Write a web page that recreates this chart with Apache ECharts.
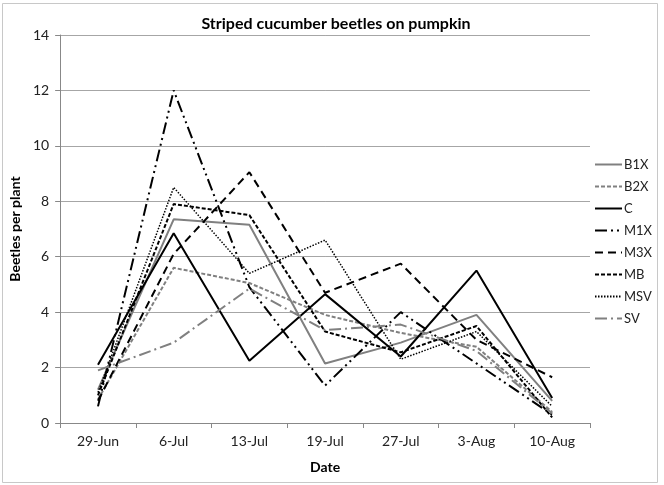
<!DOCTYPE html>
<html>
<head>
<meta charset="utf-8">
<script src="https://cdn.jsdelivr.net/npm/echarts@6/dist/echarts.min.js"></script>
<style>html,body{margin:0;padding:0;background:#fff}#c{width:664px;height:485px}</style>
</head>
<body>
<div id="c"></div>
<script>
const categories = ['29-Jun','6-Jul','13-Jul','19-Jul','27-Jul','3-Aug','10-Aug'];
const yTicks = [0, 2, 4, 6, 8, 10, 12, 14];
const B1X = [1.2, 7.35, 7.15, 2.15, 2.9, 3.9, 0.8];
const B2X = [0.85, 5.6, 5.05, 3.9, 3.25, 2.75, 0.4];
const C   = [2.1, 6.85, 2.25, 4.65, 2.4, 5.5, 0.9];
const M1X = [0.6, 12.0, 4.9, 1.35, 4.0, 2.15, 0.3];
const M3X = [0.8, 6.1, 9.05, 4.7, 5.75, 3.0, 1.65];
const MB  = [1.0, 7.9, 7.5, 3.3, 2.55, 3.5, 0.2];
const MSV = [1.1, 8.5, 5.4, 6.6, 2.3, 3.3, 0.6];
const SV  = [1.9, 2.9, 4.85, 3.35, 3.55, 2.6, 0.35];

const FONT = 'Lato, "Open Sans", "Noto Sans", sans-serif';
const BLACK = '#000000', GRAY = '#808080';

function mk(name, data, color, type, width) {
  return {
    name, type: 'line', data, symbol: 'none', showSymbol: false,
    lineStyle: { color, type, width },
    itemStyle: { color },
    emphasis: { disabled: true }, animation: false
  };
}

const chart = echarts.init(document.getElementById('c'), null, { renderer: 'canvas' });
chart.setOption({
  animation: false,
  backgroundColor: '#fff',
  title: {
    text: 'Striped cucumber beetles on pumpkin',
    left: 331, top: 11, textAlign: 'center',
    textStyle: { fontFamily: FONT, fontSize: 16, fontWeight: 'bold', color: '#000' }
  },
  graphic: [{
    type: 'rect', shape: { x: 2.5, y: 3.5, width: 655, height: 479 },
    style: { fill: 'none', stroke: '#c8c8c8', lineWidth: 1 }, silent: true, z: -1
  }],
  legend: {
    orient: 'vertical', left: 589, top: 153,
    itemWidth: 27, itemHeight: 14, itemGap: 9,
    itemStyle: { opacity: 0, borderWidth: 0 },
    textStyle: { fontFamily: FONT, fontSize: 13, color: '#222', padding: [0, 0, 0, -3] },
    data: ['B1X','B2X','C','M1X','M3X','MB','MSV','SV']
  },
  grid: { left: 48, right: 74, top: 35, bottom: 62, containLabel: false },
  xAxis: {
    type: 'category', data: categories, boundaryGap: true,
    name: 'Date', nameLocation: 'middle', nameGap: 37,
    nameTextStyle: { fontFamily: FONT, fontSize: 14, fontWeight: 'bold', color: '#000' },
    axisLine: { lineStyle: { color: '#888', width: 1 } },
    axisTick: { show: true, alignWithLabel: false, length: 5, lineStyle: { color: '#888' } },
    axisLabel: { fontFamily: FONT, fontSize: 14, color: '#222', margin: 11 },
    splitLine: { show: false }
  },
  yAxis: {
    type: 'value', min: yTicks[0], max: yTicks[yTicks.length - 1], interval: 2,
    name: 'Beetles per plant', nameLocation: 'middle', nameGap: 28,
    nameTextStyle: { fontFamily: FONT, fontSize: 14, fontWeight: 'bold', color: '#000' },
    axisLine: { show: true, lineStyle: { color: '#888', width: 1 } },
    axisTick: { show: true, length: 5, lineStyle: { color: '#888' } },
    axisLabel: { fontFamily: FONT, fontSize: 14, color: '#222', margin: 11 },
    splitLine: { show: true, lineStyle: { color: '#a6a6a6', width: 1 } }
  },
  series: [
    mk('B1X', B1X, GRAY, 'solid', 2),
    mk('B2X', B2X, GRAY, [4, 2], 2),
    mk('C', C, BLACK, 'solid', 2),
    mk('M1X', M1X, BLACK, [12, 4, 2, 4, 2, 4], 2),
    mk('M3X', M3X, BLACK, [8, 5], 2),
    mk('MB', MB, BLACK, [4, 2], 2),
    mk('MSV', MSV, BLACK, [1.5, 1.5], 1.5),
    mk('SV', SV, GRAY, [12, 4, 2, 4], 2)
  ]
});
</script>
</body>
</html>
